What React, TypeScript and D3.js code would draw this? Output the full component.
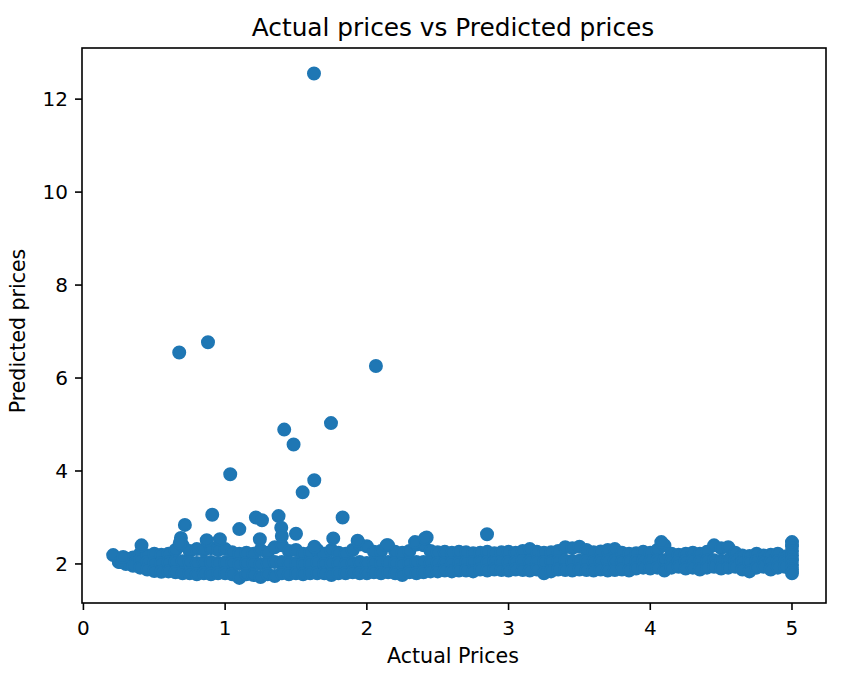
import React from "react";
import * as d3 from "d3";

const titleText = "Actual prices vs Predicted prices";
const xLabel = "Actual Prices";
const yLabel = "Predicted prices";
const xTicks = [0, 1, 2, 3, 4, 5];
const yTicks = [2, 4, 6, 8, 10, 12];

// Dense band of predictions: columns of actual-price values with the top, middle and bottom of the cloud
const bandX = [0.25,0.30,0.35,0.40,0.45,0.50,0.55,0.60,0.65,0.70,0.75,0.80,0.85,0.90,0.95,1.00,1.05,1.10,1.15,1.20,1.25,1.30,1.35,1.40,1.45,1.50,1.55,1.60,1.65,1.70,1.75,1.80,1.85,1.90,1.95,2.00,2.05,2.10,2.15,2.20,2.25,2.30,2.35,2.40,2.45,2.50,2.55,2.60,2.65,2.70,2.75,2.80,2.85,2.90,2.95,3.00,3.05,3.10,3.15,3.20,3.25,3.30,3.35,3.40,3.45,3.50,3.55,3.60,3.65,3.70,3.75,3.80,3.85,3.90,3.95,4.00,4.05,4.10,4.15,4.20,4.25,4.30,4.35,4.40,4.45,4.50,4.55,4.60,4.65,4.70,4.75,4.80,4.85,4.90,4.95];
const bandTop = [2.10,2.12,2.14,2.22,2.18,2.22,2.20,2.22,2.30,2.40,2.28,2.32,2.30,2.34,2.30,2.32,2.25,2.22,2.24,2.22,2.30,2.24,2.36,2.40,2.28,2.30,2.22,2.24,2.30,2.22,2.30,2.24,2.22,2.30,2.42,2.38,2.26,2.28,2.40,2.26,2.24,2.28,2.42,2.40,2.28,2.25,2.26,2.24,2.26,2.25,2.23,2.24,2.26,2.23,2.25,2.26,2.24,2.28,2.32,2.26,2.24,2.25,2.28,2.36,2.34,2.37,2.30,2.25,2.27,2.30,2.32,2.24,2.22,2.23,2.26,2.24,2.30,2.40,2.22,2.20,2.22,2.24,2.22,2.26,2.40,2.34,2.36,2.24,2.18,2.17,2.22,2.18,2.20,2.22,2.16];
const bandMid = [2.06,2.06,2.05,2.08,2.04,2.02,2.02,2.03,2.05,2.06,2.04,2.02,2.04,2.04,2.02,2.03,2.02,2.00,2.02,2.02,2.00,2.02,2.04,2.04,2.02,2.02,2.00,2.02,2.03,2.00,2.02,2.02,2.00,2.02,2.04,2.02,2.02,2.02,2.04,2.02,2.00,2.02,2.04,2.04,2.02,2.02,2.02,2.02,2.02,2.03,2.04,2.05,2.04,2.05,2.05,2.04,2.05,2.06,2.06,2.05,2.04,2.05,2.06,2.07,2.06,2.07,2.06,2.05,2.06,2.07,2.06,2.05,2.05,2.06,2.07,2.06,2.07,2.08,2.06,2.06,2.06,2.07,2.05,2.07,2.08,2.07,2.08,2.07,2.05,2.04,2.06,2.05,2.05,2.06,2.05];
const bandLow = [2.04,2.00,1.96,1.92,1.88,1.85,1.83,1.84,1.82,1.80,1.80,1.78,1.80,1.78,1.80,1.80,1.78,1.70,1.78,1.76,1.72,1.78,1.74,1.80,1.78,1.80,1.78,1.80,1.80,1.80,1.76,1.80,1.80,1.82,1.80,1.80,1.82,1.80,1.82,1.80,1.76,1.82,1.80,1.82,1.84,1.84,1.86,1.84,1.86,1.86,1.84,1.88,1.86,1.88,1.87,1.86,1.88,1.87,1.86,1.88,1.80,1.84,1.88,1.87,1.86,1.88,1.87,1.86,1.88,1.86,1.87,1.88,1.86,1.90,1.92,1.90,1.92,1.86,1.92,1.94,1.90,1.92,1.88,1.92,1.94,1.90,1.92,1.94,1.88,1.84,1.92,1.94,1.88,1.92,1.94];

// Individual points off the band (outliers, bumps, and the capped values at 5.0)
const extraX = [0.21,0.26,0.28,0.41,0.676,0.879,2.064,1.627,1.417,1.483,1.747,1.036,1.629,1.547,0.909,0.716,1.10,1.217,1.26,1.377,1.396,1.829,1.50,1.763,2.422,0.688,0.68,0.963,0.87,1.935,2.14,2.34,2.848,4.078,1.245,1.40,1.63,2.41,5.0,5.0,5.0,5.0,5.0,5.0,5.0,5.0];
const extraY = [2.19,2.04,2.15,2.40,6.55,6.77,6.26,12.55,4.89,4.57,5.03,3.93,3.80,3.54,3.06,2.84,2.75,3.00,2.94,3.03,2.78,3.00,2.65,2.55,2.57,2.56,2.45,2.53,2.51,2.50,2.40,2.47,2.64,2.47,2.53,2.60,2.37,2.55,2.47,2.38,2.28,2.18,2.08,1.98,1.88,1.80];

const W = 857;
const H = 686;
const left = 82;
const right = 826;
const top = 48;
const bottom = 603;
const color = "#1f77b4";
const font = "'DejaVu Sans', sans-serif";

export default function App() {
  const x = d3.scaleLinear().domain([-0.01, 5.24]).range([left, right]);
  const y = d3.scaleLinear().domain([1.16, 13.1]).range([bottom, top]);

  const pts: [number, number][] = [];
  const n = Math.min(bandX.length, bandTop.length, bandMid.length, bandLow.length);
  for (let i = 0; i < n; i++) {
    pts.push([bandX[i], bandTop[i]]);
    pts.push([bandX[i], bandMid[i]]);
    pts.push([bandX[i], bandLow[i]]);
  }
  for (let i = 0; i < Math.min(extraX.length, extraY.length); i++) {
    pts.push([extraX[i], extraY[i]]);
  }

  return (
    <svg
      width={W}
      height={H}
      style={{ position: "absolute", left: 0, top: 0, background: "#fff" }}
      fontFamily={font}
    >
      <rect x={0} y={0} width={W} height={H} fill="#fff" />
      <g>
        {pts.map((p, i) => (
          <circle
            key={i}
            cx={x(p[0])}
            cy={y(p[1])}
            r={6}
            fill={color}
            stroke={color}
            strokeWidth={2}
          />
        ))}
      </g>
      <rect
        x={left}
        y={top}
        width={right - left}
        height={bottom - top}
        fill="none"
        stroke="#000"
        strokeWidth={1.6}
      />
      {xTicks.map((t) => (
        <g key={"x" + t}>
          <line x1={x(t)} x2={x(t)} y1={bottom} y2={bottom + 7} stroke="#000" strokeWidth={1.6} />
          <text x={x(t)} y={634.5} textAnchor="middle" fontSize={20} fill="#000">
            {t}
          </text>
        </g>
      ))}
      {yTicks.map((t) => (
        <g key={"y" + t}>
          <line x1={left - 7} x2={left} y1={y(t)} y2={y(t)} stroke="#000" strokeWidth={1.6} />
          <text x={left - 14} y={y(t)} dy="0.36em" textAnchor="end" fontSize={20} fill="#000">
            {t}
          </text>
        </g>
      ))}
      <text x={(left + right) / 2 - 1} y={663} textAnchor="middle" fontSize={20.6} fill="#000">
        {xLabel}
      </text>
      <text
        transform={`translate(25,331) rotate(-90)`}
        textAnchor="middle"
        fontSize={20.5}
        fill="#000"
      >
        {yLabel}
      </text>
      <text x={(left + right) / 2 - 1} y={36} textAnchor="middle" fontSize={24.8} fill="#000">
        {titleText}
      </text>
    </svg>
  );
}
